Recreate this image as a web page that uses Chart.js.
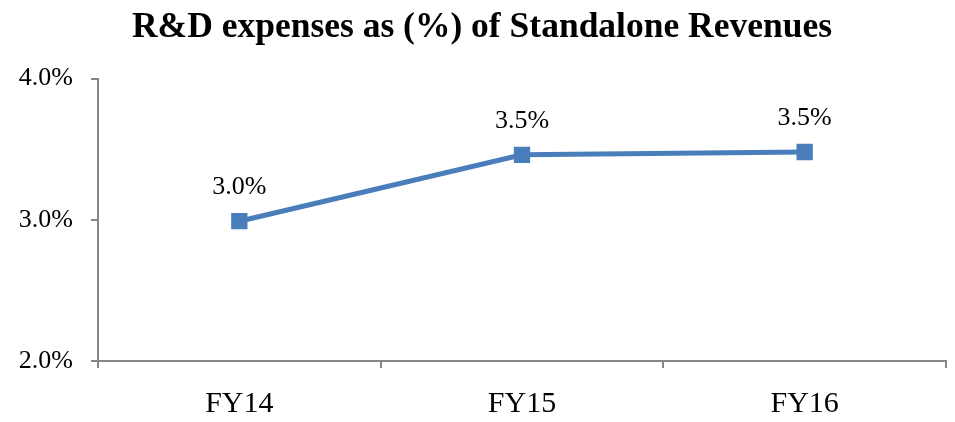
<!DOCTYPE html>
<html>
<head>
<meta charset="utf-8">
<script src="https://cdn.jsdelivr.net/npm/chart.js@4.4.1/dist/chart.umd.min.js"></script>
<style>
  html, body { margin: 0; padding: 0; background: #ffffff; }
  #graphique { display: block; }
</style>
</head>
<body>
<canvas id="graphique" width="955" height="422"></canvas>
<script>
var categories = ['FY14', 'FY15', 'FY16'];
var rdPercent = [2.99, 3.46, 3.48];
var pointLabels = ['3.0%', '3.5%', '3.5%'];
var yTicks = [2.0, 3.0, 4.0];

var serif = '"Liberation Serif", "DejaVu Serif", serif';

// draws the value above each point
var valueLabels = {
    id: 'valueLabels',
    afterDatasetsDraw: function(chart) {
        var ctx = chart.ctx;
        var meta = chart.getDatasetMeta(0);
        ctx.save();
        ctx.font = '26px ' + serif;
        ctx.fillStyle = '#000000';
        ctx.textAlign = 'center';
        ctx.textBaseline = 'middle';
        meta.data.forEach(function(pt, i) {
            ctx.fillText(pointLabels[i], pt.x, pt.y - 34);
        });
        ctx.restore();
    }
};

document.addEventListener("DOMContentLoaded", function() {
    var ctx = document.getElementById('graphique').getContext('2d');

    var chart = new Chart(ctx, {
        type: 'line',
        data: {
            labels: categories,
            datasets: [{
                label: 'R&D %',
                data: rdPercent,
                borderColor: '#4a7ebb',
                backgroundColor: '#4a7ebb',
                borderWidth: 5,
                pointStyle: 'rect',
                pointRadius: 8,
                pointHoverRadius: 8,
                fill: false,
                tension: 0
            }]
        },
        options: {
            responsive: false,
            animation: false,
            // autoPadding off, otherwise the markers push the right edge in
            layout: { autoPadding: false, padding: { left: 18, right: 9, top: 0, bottom: 0 } },
            plugins: {
                legend: { display: false },
                tooltip: { enabled: false },
                title: {
                    display: true,
                    text: 'R&D expenses as (%) of Standalone Revenues',
                    color: '#000000',
                    font: { family: serif, size: 35.5, weight: 'bold' },
                    padding: { top: 7, bottom: 29 }
                }
            },
            scales: {
                x: {
                    offset: true,
                    border: { color: '#868686', width: 2 },
                    grid: { offset: true, drawOnChartArea: false, tickLength: 7, color: '#868686', lineWidth: 2 },
                    ticks: { color: '#000000', font: { family: serif, size: 30 }, padding: 18 },
                    afterFit: function(s) {
                        s.height = 61;
                        s.paddingLeft = 0;
                        s.paddingRight = 0;
                    }
                },
                y: {
                    min: 2.0,
                    max: 4.0,
                    border: { color: '#868686', width: 2 },
                    grid: { drawOnChartArea: false, tickLength: 7, color: '#868686', lineWidth: 2 },
                    afterBuildTicks: function(s) {
                        s.ticks = yTicks.map(function(v) { return { value: v }; });
                    },
                    ticks: {
                        color: '#000000',
                        font: { family: serif, size: 26 },
                        padding: 18,
                        callback: function(v) { return v.toFixed(1) + '%'; }
                    },
                    afterFit: function(s) { s.width = 80; }
                }
            }
        },
        plugins: [valueLabels]
    });
});
</script>
</body>
</html>
